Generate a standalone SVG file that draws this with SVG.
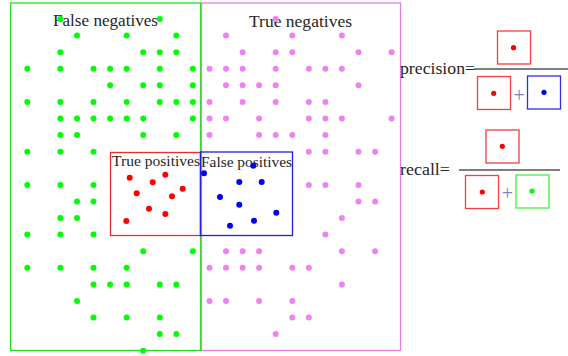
<svg xmlns="http://www.w3.org/2000/svg" width="568" height="356" viewBox="0 0 568 356">
<style>
text{font-family:"Liberation Serif","DejaVu Serif",serif;fill:#262626}
.lbl{font-size:17px}
.sm{font-size:15.5px}
.box{fill:none}
.g{fill:#00ff00}.m{fill:#ee82ee}.r{fill:#ff0000}.b{fill:#0000ff}
.fr{stroke:#555;stroke-width:1.5}
.plus{fill:#8080c8;font-size:20px}
</style>
<rect width="568" height="356" fill="#fff"/>
<g id="false-negatives">
<rect class="box" x="10.5" y="3" width="190" height="347.5" stroke="#22e022" stroke-width="1.3"/>
<text class="lbl" x="53" y="25.7" textLength="105" lengthAdjust="spacingAndGlyphs">False negatives</text>
<g class="g">
<circle cx="60.4" cy="19" r="3"/><circle cx="159.8" cy="19" r="3"/>
<circle cx="77" cy="35.6" r="3"/><circle cx="126.7" cy="35.6" r="3"/><circle cx="176.3" cy="35.6" r="3"/>
<circle cx="60.4" cy="52.2" r="3"/><circle cx="143.2" cy="52.2" r="3"/><circle cx="159.8" cy="52.2" r="3"/><circle cx="176.3" cy="52.2" r="3"/>
<circle cx="27.3" cy="68.8" r="3"/><circle cx="60.4" cy="68.8" r="3"/><circle cx="93.5" cy="68.8" r="3"/><circle cx="110.1" cy="68.8" r="3"/><circle cx="126.7" cy="68.8" r="3"/><circle cx="159.8" cy="68.8" r="3"/><circle cx="192.9" cy="68.8" r="3"/>
<circle cx="110.1" cy="85.3" r="3"/><circle cx="143.2" cy="85.3" r="3"/><circle cx="159.8" cy="85.3" r="3"/><circle cx="192.9" cy="85.3" r="3"/>
<circle cx="27.3" cy="101.9" r="3"/><circle cx="60.4" cy="101.9" r="3"/><circle cx="93.5" cy="101.9" r="3"/><circle cx="126.7" cy="101.9" r="3"/><circle cx="159.8" cy="101.9" r="3"/><circle cx="176.3" cy="101.9" r="3"/><circle cx="192.9" cy="101.9" r="3"/>
<circle cx="60.4" cy="118.5" r="3"/><circle cx="77" cy="118.5" r="3"/><circle cx="93.5" cy="118.5" r="3"/><circle cx="110.1" cy="118.5" r="3"/><circle cx="126.7" cy="118.5" r="3"/><circle cx="143.2" cy="118.5" r="3"/><circle cx="192.9" cy="118.5" r="3"/>
<circle cx="60.4" cy="135.1" r="3"/><circle cx="77" cy="135.1" r="3"/><circle cx="143.2" cy="135.1" r="3"/><circle cx="176.3" cy="135.1" r="3"/>
<circle cx="27.3" cy="151.7" r="3"/><circle cx="60.4" cy="151.7" r="3"/><circle cx="93.5" cy="151.7" r="3"/>
<circle cx="27.3" cy="184.9" r="3"/><circle cx="60.4" cy="184.9" r="3"/><circle cx="93.5" cy="184.9" r="3"/>
<circle cx="77" cy="201.4" r="3"/><circle cx="93.5" cy="201.4" r="3"/>
<circle cx="60.4" cy="218" r="3"/><circle cx="77" cy="218" r="3"/>
<circle cx="27.3" cy="234.6" r="3"/><circle cx="60.4" cy="234.6" r="3"/><circle cx="93.5" cy="234.6" r="3"/>
<circle cx="143.2" cy="251.2" r="3"/><circle cx="192.9" cy="251.2" r="3"/>
<circle cx="27.3" cy="267.8" r="3"/><circle cx="60.4" cy="267.8" r="3"/><circle cx="93.5" cy="267.8" r="3"/><circle cx="126.7" cy="267.8" r="3"/>
<circle cx="93.5" cy="284.4" r="3"/><circle cx="110.1" cy="284.4" r="3"/><circle cx="126.7" cy="284.4" r="3"/><circle cx="159.8" cy="284.4" r="3"/><circle cx="176.3" cy="284.4" r="3"/>
<circle cx="77" cy="301" r="3"/>
<circle cx="93.5" cy="317.5" r="3"/><circle cx="126.7" cy="317.5" r="3"/><circle cx="159.8" cy="317.5" r="3"/>
<circle cx="159.8" cy="334.1" r="3"/><circle cx="176.3" cy="334.1" r="3"/>
<circle cx="143.2" cy="350.7" r="3"/>
</g>
</g>
<g id="true-negatives">
<rect class="box" x="201.5" y="3" width="199" height="347.5" stroke="#e080e0" stroke-width="1.3"/>
<text class="lbl" x="249" y="27" textLength="103" lengthAdjust="spacingAndGlyphs">True negatives</text>
<g class="m">
<circle cx="275.7" cy="19" r="3"/>
<circle cx="226" cy="35.6" r="3"/><circle cx="292.3" cy="35.6" r="3"/><circle cx="341.9" cy="35.6" r="3"/>
<circle cx="242.6" cy="52.2" r="3"/><circle cx="275.7" cy="52.2" r="3"/><circle cx="292.3" cy="52.2" r="3"/><circle cx="358.5" cy="52.2" r="3"/><circle cx="391.6" cy="52.2" r="3"/>
<circle cx="209.5" cy="68.8" r="3"/><circle cx="226" cy="68.8" r="3"/><circle cx="242.6" cy="68.8" r="3"/><circle cx="275.7" cy="68.8" r="3"/><circle cx="308.8" cy="68.8" r="3"/><circle cx="325.4" cy="68.8" r="3"/><circle cx="341.9" cy="68.8" r="3"/>
<circle cx="226" cy="85.3" r="3"/><circle cx="242.6" cy="85.3" r="3"/><circle cx="259.1" cy="85.3" r="3"/><circle cx="275.7" cy="85.3" r="3"/><circle cx="358.5" cy="85.3" r="3"/>
<circle cx="209.5" cy="101.9" r="3"/><circle cx="242.6" cy="101.9" r="3"/><circle cx="275.7" cy="101.9" r="3"/><circle cx="308.8" cy="101.9" r="3"/><circle cx="325.4" cy="101.9" r="3"/>
<circle cx="209.5" cy="118.5" r="3"/><circle cx="226" cy="118.5" r="3"/><circle cx="259.1" cy="118.5" r="3"/><circle cx="308.8" cy="118.5" r="3"/><circle cx="325.4" cy="118.5" r="3"/><circle cx="341.9" cy="118.5" r="3"/><circle cx="391.6" cy="118.5" r="3"/>
<circle cx="209.5" cy="135.1" r="3"/><circle cx="259.1" cy="135.1" r="3"/><circle cx="275.7" cy="135.1" r="3"/><circle cx="292.3" cy="135.1" r="3"/><circle cx="325.4" cy="135.1" r="3"/>
<circle cx="308.8" cy="151.7" r="3"/><circle cx="325.4" cy="151.7" r="3"/><circle cx="358.5" cy="151.7" r="3"/><circle cx="375.1" cy="151.7" r="3"/>
<circle cx="308.8" cy="184.9" r="3"/><circle cx="325.4" cy="184.9" r="3"/><circle cx="358.5" cy="184.9" r="3"/>
<circle cx="358.5" cy="201.4" r="3"/><circle cx="375.1" cy="201.4" r="3"/>
<circle cx="341.9" cy="218" r="3"/>
<circle cx="325.4" cy="234.6" r="3"/>
<circle cx="226" cy="251.2" r="3"/><circle cx="242.6" cy="251.2" r="3"/><circle cx="259.1" cy="251.2" r="3"/><circle cx="341.9" cy="251.2" r="3"/><circle cx="375.1" cy="251.2" r="3"/>
<circle cx="209.5" cy="267.8" r="3"/><circle cx="226" cy="267.8" r="3"/><circle cx="242.6" cy="267.8" r="3"/><circle cx="259.1" cy="267.8" r="3"/><circle cx="292.3" cy="267.8" r="3"/><circle cx="308.8" cy="267.8" r="3"/>
<circle cx="341.9" cy="284.4" r="3"/>
<circle cx="209.5" cy="301" r="3"/><circle cx="226" cy="301" r="3"/><circle cx="259.1" cy="301" r="3"/><circle cx="292.3" cy="301" r="3"/>
<circle cx="292.3" cy="317.5" r="3"/><circle cx="308.8" cy="317.5" r="3"/>
<circle cx="275.7" cy="334.1" r="3"/>
</g>
</g>
<g id="true-positives">
<rect class="box" x="110.5" y="152.5" width="90" height="83" stroke="#e03030" stroke-width="1.3"/>
<text class="sm" x="112" y="166" textLength="88" lengthAdjust="spacingAndGlyphs">True positives</text>
<g class="r">
<circle cx="129.7" cy="177.7" r="3"/><circle cx="165.3" cy="174.7" r="3"/><circle cx="152.7" cy="182.3" r="3"/>
<circle cx="136.7" cy="193.3" r="3"/><circle cx="182.7" cy="188.7" r="3"/><circle cx="172" cy="196.3" r="3"/>
<circle cx="149" cy="208.7" r="3"/><circle cx="165.3" cy="214" r="3"/><circle cx="126.3" cy="221" r="3"/>
</g>
</g>
<g id="false-positives">
<rect class="box" x="200.5" y="152" width="92" height="83.5" stroke="#2020e0" stroke-width="1.3"/>
<text class="sm" x="201" y="166.5" textLength="91" lengthAdjust="spacingAndGlyphs">False positives</text>
<g class="b">
<circle cx="204" cy="173.3" r="3"/><circle cx="253.3" cy="165.7" r="3"/><circle cx="239.3" cy="182" r="3"/>
<circle cx="261.7" cy="182" r="3"/><circle cx="220" cy="197" r="3"/><circle cx="239.3" cy="204.7" r="3"/>
<circle cx="276.3" cy="212.7" r="3"/><circle cx="254" cy="220.7" r="3"/><circle cx="230" cy="225.7" r="3"/>
</g>
</g>
<g id="precision">
<text class="lbl" x="400" y="74" textLength="75" lengthAdjust="spacingAndGlyphs">precision=</text>
<line class="fr" x1="474" y1="69" x2="568" y2="69"/>
<rect class="box" x="497.5" y="31" width="33" height="33" stroke="#f04040" stroke-width="1.3"/>
<circle class="r" cx="513.5" cy="47.7" r="2.6"/>
<rect class="box" x="477.5" y="76.5" width="33" height="33" stroke="#f04040" stroke-width="1.3"/>
<circle class="r" cx="493.7" cy="93.3" r="2.6"/>
<text class="plus" x="513.4" y="101.8">+</text>
<rect class="box" x="527.5" y="76" width="33" height="33" stroke="#3030e0" stroke-width="1.3"/>
<circle class="b" cx="544" cy="92.3" r="2.6"/>
</g>
<g id="recall">
<text class="lbl" x="400" y="174.5" textLength="50" lengthAdjust="spacingAndGlyphs">recall=</text>
<line class="fr" x1="459" y1="170" x2="560" y2="170"/>
<rect class="box" x="486" y="130" width="33" height="33" stroke="#f04040" stroke-width="1.3"/>
<circle class="r" cx="502.3" cy="146.3" r="2.6"/>
<rect class="box" x="465.5" y="175.5" width="33" height="33" stroke="#f04040" stroke-width="1.3"/>
<circle class="r" cx="482.3" cy="192" r="2.6"/>
<text class="plus" x="501.7" y="199.8">+</text>
<rect class="box" x="516" y="175" width="33" height="33" stroke="#40f040" stroke-width="1.3"/>
<circle class="g" cx="532" cy="191" r="2.6"/>
</g>
</svg>
